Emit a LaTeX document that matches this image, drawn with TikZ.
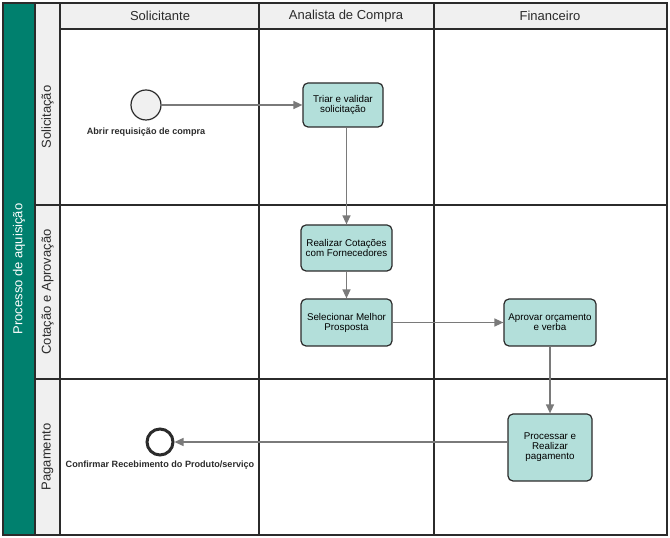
\documentclass[tikz,border=0pt]{standalone}
\usepackage{fontspec}
\setmainfont{Liberation Sans}
\usetikzlibrary{arrows.meta}
\definecolor{poolgreen}{HTML}{00806E}
\definecolor{taskfill}{HTML}{B3DFDA}
\definecolor{hdrgray}{HTML}{F0F0F0}
\definecolor{linegray}{HTML}{7A7A7A}
\definecolor{dark}{HTML}{2B2B2B}
\tikzset{
  grid/.style={draw=dark, line width=1.6pt},
  task/.style={draw=dark, line width=1.2pt, fill=taskfill, rounded corners=5pt,
    align=center, font=\fontsize{9.8}{10}\selectfont, text=black, inner sep=1pt},
  flow/.style={draw=linegray, line width=1.4pt, -{Triangle[length=9pt,width=8pt]}},
  hdr/.style={font=\fontsize{13}{14}\selectfont, text=dark},
  lanelbl/.style={font=\fontsize{13}{14}\selectfont, text=dark, rotate=90},
  evlbl/.style={font=\fontsize{9.1}{9.5}\selectfont\bfseries, text=dark}
}
\begin{document}
\begin{tikzpicture}[x=1pt,y=1pt]
\useasboundingbox (0,0) rectangle (670,538);
% backgrounds
\fill[white] (0,0) rectangle (670,538);
\fill[poolgreen] (3,3) rectangle (35,535);
\fill[hdrgray] (35,3) rectangle (60,535);
\fill[hdrgray] (60,509) rectangle (667,535);
% grid lines
\draw[grid] (3,3) rectangle (667,535);
\draw[grid] (35,3) -- (35,535);
\draw[grid] (60,3) -- (60,535);
\draw[grid] (60,509) -- (667,509);
\draw[grid] (259,3) -- (259,535);
\draw[grid] (434,3) -- (434,535);
\draw[grid] (35,333) -- (667,333);
\draw[grid] (35,159) -- (667,159);
% headers
\node[hdr] (hsol) at (160,522) {Solicitante};
\node[hdr] (hana) at (346,522) {Analista de Compra};
\node[hdr] (hfin) at (550,522) {Financeiro};
\node[lanelbl] (lsol) at (47.5,421) {Solicitação};
\node[lanelbl] (lcot) at (47.5,246) {Cotação e Aprovação};
\node[lanelbl] (lpag) at (47.5,81) {Pagamento};
\node[lanelbl, text=white] (pool) at (19,269) {Processo de aquisição};
% events
\node[circle, draw=dark, line width=1.2pt, fill=hdrgray, minimum size=30pt, inner sep=0pt] (start) at (146,433) {};
\node[evlbl] (startlbl) at (146,406) {Abrir requisição de compra};
\node[circle, draw=dark, line width=3pt, fill=white, minimum size=26pt, inner sep=0pt] (endev) at (160,96) {};
\node[evlbl] (endlbl) at (160,73) {Confirmar Recebimento do Produto/serviço};
% tasks
\node[task, minimum width=80pt, minimum height=44pt] (triar) at (343,433) {Triar e validar\\solicitação};
\node[task, minimum width=91pt, minimum height=46pt] (realizar) at (346.5,290) {Realizar Cotações\\com Fornecedores};
\node[task, minimum width=91pt, minimum height=47pt] (selec) at (346.5,215.5) {Selecionar Melhor\\Prosposta};
\node[task, minimum width=92pt, minimum height=47pt] (aprov) at (550,215.5) {Aprovar orçamento\\e verba};
\node[task, minimum width=84pt, minimum height=67pt] (proc) at (550,90.5) {Processar e\\Realizar\\pagamento};
% flows
\draw[flow] (start) -- (triar);
\draw[flow] (triar.south -| realizar.north) -- (realizar.north);
\draw[flow] (realizar) -- (selec);
\draw[flow] (selec) -- (aprov);
\draw[flow] (aprov) -- (proc);
\draw[flow] (proc.west |- endev) -- (endev);
\end{tikzpicture}
\end{document}
